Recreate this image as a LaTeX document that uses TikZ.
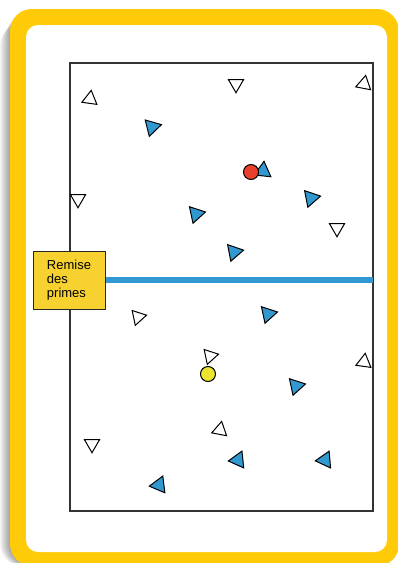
\documentclass[tikz,border=0pt]{standalone}
\usepackage{fontspec}
\setmainfont{Liberation Sans}
\usetikzlibrary{shapes.geometric}
\definecolor{cadre}{RGB}{255,203,8}
\definecolor{bleu}{RGB}{50,152,208}
\definecolor{rouge}{RGB}{232,64,44}
\definecolor{jaune}{RGB}{236,228,48}
\definecolor{etiquette}{RGB}{247,209,48}
\begin{document}
\begin{tikzpicture}[x=1pt,y=-1pt,
    tri/.style={regular polygon,regular polygon sides=3,inner sep=0pt,
      draw=black,line width=1pt},
    triblanc/.style={tri,fill=white,minimum size=17.5pt},
    tribleu/.style={tri,fill=bleu,minimum size=19.5pt},
    balle/.style={circle,draw=black,line width=1pt,minimum size=15pt,inner sep=0pt}]
  \useasboundingbox (0,0) rectangle (398,563);
  % Ombre a gauche du cadre
  \foreach \s in {1,...,10}
    \fill[black,opacity=0.04,rounded corners=22pt] (10-\s,9+1.5*\s) rectangle (399,566);
  % Cadre jaune et fond blanc
  \fill[cadre,rounded corners=22pt] (10,9) rectangle (399,566);
  \fill[white,rounded corners=12pt] (26,25) rectangle (387,552);
  % Terrain
  \coordinate (tno) at (70,63);
  \coordinate (tse) at (373,511);
  \draw[line width=1.1pt,black!80] (tno) rectangle (tse);
  % Etiquette et ligne bleue
  \node[draw=black!85,fill=etiquette,line width=1pt,minimum width=72pt,
    minimum height=58pt,align=left,font=\fontsize{13}{14}\selectfont]
    (primes) at (69,280) {Remise\\des\\primes};
  \draw[bleu,line width=6pt] (primes.east) -- (primes.east -| tse);
  % Joueurs blancs : x/y/rotation
  \foreach \x/\y/\r [count=\i] in {90/99/-8, 236/84/180, 364/84/-11,
      78/199/180, 337/228/180, 138/317/-78, 210/356/-78, 364/362/-8,
      92/444/180, 220/430/-11}
    \node[triblanc,rotate=\r] (w\i) at (\x,\y) {};
  % Joueurs bleus
  \foreach \x/\y/\r [count=\i] in {152/127/-76, 196/214/-78, 311/198/-79,
      234/252/-79, 268/314/-78, 296/386/-78, 263/171/114,
      238/460/96, 325/460/95, 159/485/97}
    \node[tribleu,rotate=\r] (b\i) at (\x,\y) {};
  % Balles
  \node[balle,fill=rouge] (ballerouge) at (251,172) {};
  \node[balle,fill=jaune] (ballejaune) at (208,374) {};
\end{tikzpicture}
\end{document}
